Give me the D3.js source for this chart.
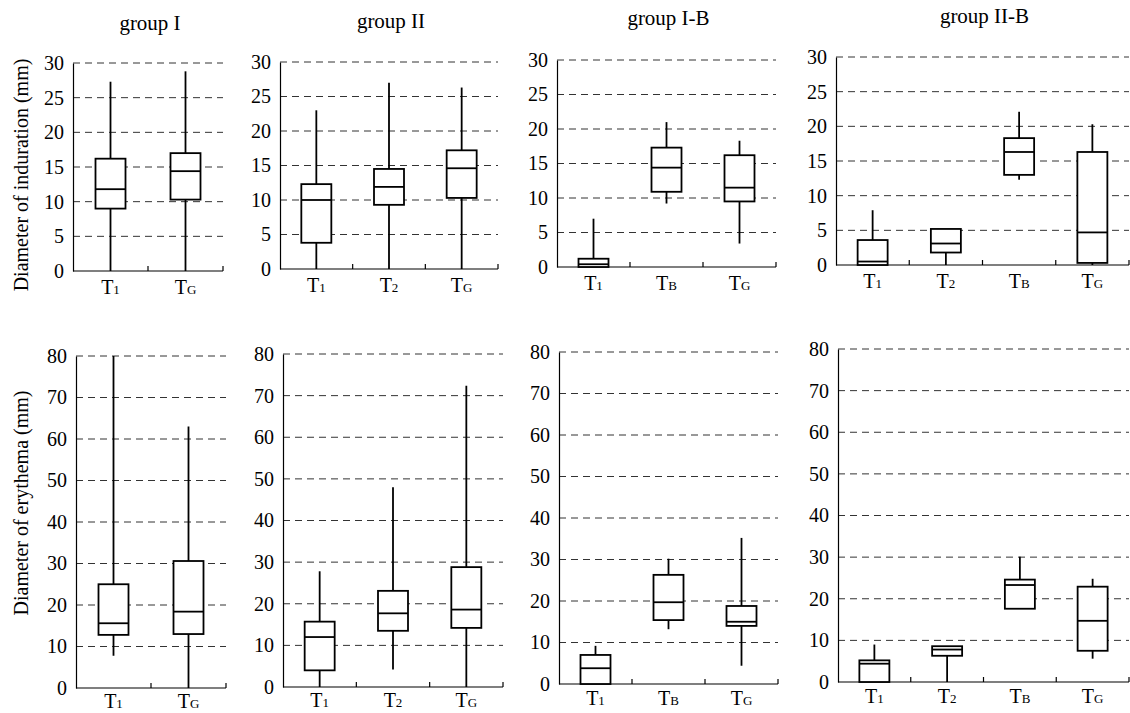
<!DOCTYPE html>
<html>
<head>
<meta charset="utf-8">
<script src="https://cdn.jsdelivr.net/npm/d3@7"></script>
<style>
  body { margin: 0; background: #fff; }
  svg text { font-family: "Liberation Serif", "Times New Roman", serif; fill: #000; }
</style>
</head>
<body>
<svg id="chart" width="1130" height="713"></svg>
<script>
// titulos e categorias
const groupTitles = ["group I", "group II", "group I-B", "group II-B"];
const catsGroupI = ["T1", "TG"];
const catsGroupII = ["T1", "T2", "TG"];
const catsGroupIB = ["T1", "TB", "TG"];
const catsGroupIIB = ["T1", "T2", "TB", "TG"];

const yTicksInduration = [0, 5, 10, 15, 20, 25, 30];
const yTicksErythema = [0, 10, 20, 30, 40, 50, 60, 70, 80];

// [min, q1, mediana, q3, max]
const indurationI = [[0, 9.0, 11.8, 16.2, 27.3], [0, 10.3, 14.4, 17.0, 28.8]];
const indurationII = [[0, 3.8, 10.0, 12.3, 23.0], [0, 9.3, 11.9, 14.5, 27.0], [0, 10.3, 14.6, 17.2, 26.3]];
const indurationIB = [[0, 0, 0.4, 1.2, 7.0], [9.2, 10.9, 14.4, 17.3, 21.0], [3.4, 9.5, 11.5, 16.2, 18.3]];
const indurationIIB = [[0, 0, 0.5, 3.6, 7.9], [0, 1.8, 3.1, 5.2, 5.2], [12.3, 13.0, 16.3, 18.3, 22.1], [0, 0.3, 4.7, 16.3, 20.3]];

const erythemaI = [[7.8, 12.8, 15.6, 25.0, 80.0], [0, 13.0, 18.4, 30.6, 63.0]];
const erythemaII = [[0, 4.0, 12.0, 15.7, 27.8], [4.2, 13.5, 17.7, 23.1, 48.0], [0, 14.2, 18.6, 28.8, 72.4]];
const erythemaIB = [[0, 0, 3.8, 7.0, 9.2], [13.2, 15.4, 19.7, 26.3, 30.2], [4.4, 14.0, 15.0, 18.8, 35.2]];
const erythemaIIB = [[0, 0, 4.4, 5.2, 9.0], [0, 6.3, 7.8, 8.6, 8.6], [17.6, 17.6, 23.3, 24.6, 30.1], [5.6, 7.5, 14.7, 22.9, 24.8]];

// posicoes de cada painel (x do eixo, fim, topo, base)
const panels = [
  {title: 0, cats: catsGroupI,   stats: indurationI,   ticks: yTicksInduration, max: 30, x0: 73,  x1: 223,  y0: 63,  y1: 271, ty: 30, ly: 23},
  {title: 1, cats: catsGroupII,  stats: indurationII,  ticks: yTicksInduration, max: 30, x0: 280, x1: 498,  y0: 62,  y1: 269, ty: 28, ly: 23},
  {title: 2, cats: catsGroupIB,  stats: indurationIB,  ticks: yTicksInduration, max: 30, x0: 557, x1: 776,  y0: 60,  y1: 267, ty: 25, ly: 23},
  {title: 3, cats: catsGroupIIB, stats: indurationIIB, ticks: yTicksInduration, max: 30, x0: 836, x1: 1129, y0: 57,  y1: 265, ty: 23, ly: 23},
  {title: -1, cats: catsGroupI,   stats: erythemaI,   ticks: yTicksErythema, max: 80, x0: 76,  x1: 226,  y0: 356, y1: 688, ly: 20},
  {title: -1, cats: catsGroupII,  stats: erythemaII,  ticks: yTicksErythema, max: 80, x0: 283, x1: 503,  y0: 354, y1: 687, ly: 20},
  {title: -1, cats: catsGroupIB,  stats: erythemaIB,  ticks: yTicksErythema, max: 80, x0: 559, x1: 778,  y0: 352, y1: 684, ly: 21},
  {title: -1, cats: catsGroupIIB, stats: erythemaIIB, ticks: yTicksErythema, max: 80, x0: 838, x1: 1129, y0: 349, y1: 682, ly: 21}
];

const serif = '"Liberation Serif", "Times New Roman", serif';
const svg = d3.select("#chart");
const boxW = 30;

panels.forEach(function(p){
  let g = svg.append("g");
  let x = d3.scaleBand().domain(p.cats).range([p.x0, p.x1]);
  let y = d3.scaleLinear().domain([0, p.max]).range([p.y1, p.y0]);

  // linhas tracejadas
  g.selectAll("line.grid")
    .data(p.ticks.filter(t => t > 0))
    .enter().append("line")
    .attr("x1", p.x0).attr("x2", p.x1)
    .attr("y1", d => y(d)).attr("y2", d => y(d))
    .attr("stroke", "#333")
    .attr("stroke-width", 1)
    .attr("stroke-dasharray", "7,5");

  // eixo y
  let eixoY = g.append("g")
    .attr("transform", "translate(" + p.x0 + ",0)")
    .call(d3.axisLeft(y).tickValues(p.ticks).tickSize(0).tickPadding(9));
  eixoY.attr("font-family", serif).attr("font-size", 20);
  eixoY.select(".domain").attr("stroke", "#000").attr("stroke-width", 1.2);
  eixoY.selectAll("text")
    .style("font-family", serif)
    .style("font-size", "20px")
    .attr("fill", "#000");

  // eixo x
  g.append("line")
    .attr("x1", p.x0).attr("x2", p.x1)
    .attr("y1", p.y1).attr("y2", p.y1)
    .attr("stroke", "#000").attr("stroke-width", 1.2);
  g.selectAll("line.xtick")
    .data(p.cats.slice(1).map(c => x(c)).concat([p.x1]))
    .enter().append("line")
    .attr("x1", d => d).attr("x2", d => d)
    .attr("y1", p.y1).attr("y2", p.y1 - 5)
    .attr("stroke", "#000").attr("stroke-width", 1.2);

  let labels = g.selectAll("text.cat")
    .data(p.cats)
    .enter().append("text")
    .attr("x", d => x(d) + x.bandwidth() / 2)
    .attr("y", p.y1 + p.ly)
    .attr("text-anchor", "middle")
    .style("font-family", serif)
    .style("font-size", "20px");
  labels.append("tspan").text("T");
  labels.append("tspan").text(d => d.slice(1)).style("font-size", "13px");

  // caixas
  let boxes = g.selectAll("g.box")
    .data(p.stats)
    .enter().append("g")
    .attr("transform", (d, i) => "translate(" + (x(p.cats[i]) + x.bandwidth() / 2) + ",0)");

  boxes.append("line")
    .attr("x1", 0).attr("x2", 0)
    .attr("y1", d => y(d[0])).attr("y2", d => y(d[4]))
    .attr("stroke", "#000").attr("stroke-width", 1.8);
  boxes.append("rect")
    .attr("x", -boxW / 2).attr("width", boxW)
    .attr("y", d => y(d[3]))
    .attr("height", d => Math.max(y(d[1]) - y(d[3]), 0))
    .attr("fill", "#fff")
    .attr("stroke", "#000").attr("stroke-width", 1.8);
  boxes.append("line")
    .attr("x1", -boxW / 2).attr("x2", boxW / 2)
    .attr("y1", d => y(d[2])).attr("y2", d => y(d[2]))
    .attr("stroke", "#000").attr("stroke-width", 1.8);

  if (p.title >= 0) {
    svg.append("text")
      .attr("x", (p.x0 + p.x1) / 2 + 2)
      .attr("y", p.ty)
      .attr("text-anchor", "middle")
      .style("font-family", serif)
      .style("font-size", "21px")
      .text(groupTitles[p.title]);
  }
});

// rotulos do eixo y
svg.append("text")
  .attr("transform", "translate(28,175) rotate(-90)")
  .attr("text-anchor", "middle")
  .style("font-family", serif)
  .style("font-size", "20px")
  .text("Diameter of induration (mm)");
svg.append("text")
  .attr("transform", "translate(28,503) rotate(-90)")
  .attr("text-anchor", "middle")
  .style("font-family", serif)
  .style("font-size", "20px")
  .text("Diameter of erythema (mm)");
</script>
</body>
</html>
